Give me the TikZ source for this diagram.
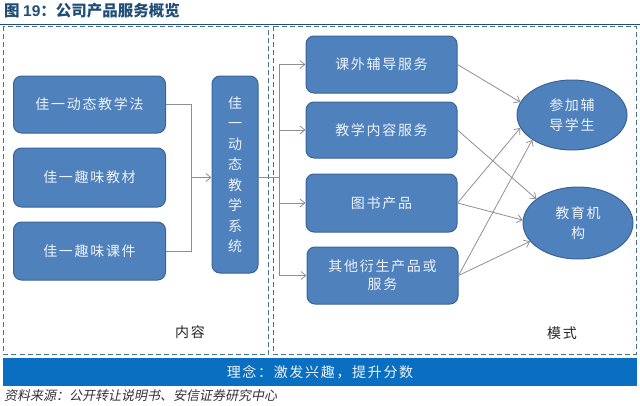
\documentclass[tikz,border=0pt]{standalone}
\usepackage{fontspec}
\setmainfont{Liberation Sans}
\newfontfamily\cjk[LetterSpace=12]{Noto Sans CJK SC}
\newfontfamily\cjkt{Noto Sans CJK SC}
\newfontfamily\cjkit[FakeSlant=0.2]{Noto Sans CJK SC}
\usetikzlibrary{arrows.meta,shapes.geometric}
\definecolor{boxfill}{HTML}{4F81BD}
\definecolor{boxline}{HTML}{3A6496}
\definecolor{boxtext}{HTML}{EEF2F8}
\definecolor{dashc}{HTML}{4A7090}
\definecolor{titlec}{HTML}{1F4E79}
\definecolor{barc}{HTML}{0A6FC0}
\definecolor{linec}{HTML}{8C9096}
\tikzset{
  bluebox/.style={draw=boxline,line width=1pt,fill=boxfill,rounded corners=8pt,
    text=boxtext,font=\fontsize{14}{18}\cjk,align=center,inner sep=0pt},
  blueell/.style={ellipse,draw=boxline,line width=1pt,fill=boxfill,
    text=boxtext,font=\fontsize{14}{20}\cjk,align=center,inner sep=0pt},
  dashbox/.style={draw=dashc,line width=1pt,dash pattern=on 5pt off 3pt},
  conn/.style={draw=linec,line width=0.8pt},
  arr/.style={conn,-{Straight Barb[length=5pt,width=8pt]}},
  lbl/.style={font=\fontsize{14}{16}\cjk,text=black!85}
}
\begin{document}
\begin{tikzpicture}[x=1pt,y=-1pt]
\useasboundingbox (0,0) rectangle (640,405);
% title
\node[anchor=west,text=titlec,font=\fontsize{15.5}{17}\cjkt\bfseries,inner sep=0pt] (title) at (4,11)
  {图 {\fontspec{Liberation Sans}\bfseries 19}：公司产品服务概览};
\draw[titlec,line width=1pt] (0,24) -- (640,24);
% dashed frames
\draw[dashbox] (3.5,26) rectangle (268,354);
\draw[dashbox] (273,26) rectangle (636,354);
% bottom bar
\node[fill=barc,minimum width=634pt,minimum height=28pt,inner sep=0pt,
  text=boxtext,font=\fontsize{14}{16}\cjk] (bar) at (320,372) {理念：激发兴趣，提升分数};
% source
\node[anchor=west,font=\fontsize{13}{14}\cjkit,text=black!80,inner sep=0pt] (src) at (4,396)
  {资料来源：公开转让说明书、安信证券研究中心};
% left boxes
\node[bluebox,minimum width=152pt,minimum height=57pt] (b1) at (89.5,104.5) {佳一动态教学法};
\node[bluebox,minimum width=152pt,minimum height=59pt] (b2) at (89.5,177.5) {佳一趣味教材};
\node[bluebox,minimum width=152pt,minimum height=58pt] (b3) at (89.5,251) {佳一趣味课件};
\node[bluebox,minimum width=46pt,minimum height=197pt,font=\fontsize{14}{20.5}\cjkt] (sys) at (235,174.5)
  {佳\\一\\动\\态\\教\\学\\系\\统};
% right boxes
\node[bluebox,minimum width=151pt,minimum height=57pt] (ra) at (381.5,64.5) {课外辅导服务};
\node[bluebox,minimum width=151pt,minimum height=56pt] (rb) at (381.5,130) {教学内容服务};
\node[bluebox,minimum width=151pt,minimum height=58pt] (rc) at (381.5,203) {图书产品};
\node[bluebox,minimum width=151pt,minimum height=57pt] (rd) at (382.5,275.5) {其他衍生产品或\\服务};
% ellipses
\node[blueell,minimum width=110pt,minimum height=70pt] (e1) at (572,115) {参加辅\\导学生};
\node[blueell,minimum width=110pt,minimum height=72pt] (e2) at (578,223) {教育机\\构};
% labels
\node[lbl] (l1) at (190,332) {内容};
\node[lbl] (l2) at (562,333) {模式};
% left connectors
\coordinate (jl) at (191,177.5);
\draw[conn] (b1.east) -| (jl);
\draw[conn] (b3.east) -| (jl);
\draw[arr] (jl) -- (jl -| sys.west);
% right connectors
\coordinate (jr) at (279,177.5);
\draw[conn] (jr -| sys.east) -- (jr);
\draw[conn] (ra.west -| jr) -- (rd.west -| jr);
\draw[arr] (ra.west -| jr) -- (ra.west);
\draw[arr] (rb.west -| jr) -- (rb.west);
\draw[arr] (rc.west -| jr) -- (rc.west);
\draw[arr] (rd.west -| jr) -- (rd.west);
% to ellipses
\draw[arr] (ra.east) -- (e1.166.5);
\draw[arr] (rb.east) -- (e2.150.5);
\draw[arr] (rc.east) -- (e1.194.6);
\draw[arr] (rc.east) -- (e2.177);
\draw[arr] (rd.east) -- (e1.212.7);
\draw[arr] (rd.east) -- (e2.201.4);
\end{tikzpicture}
\end{document}
